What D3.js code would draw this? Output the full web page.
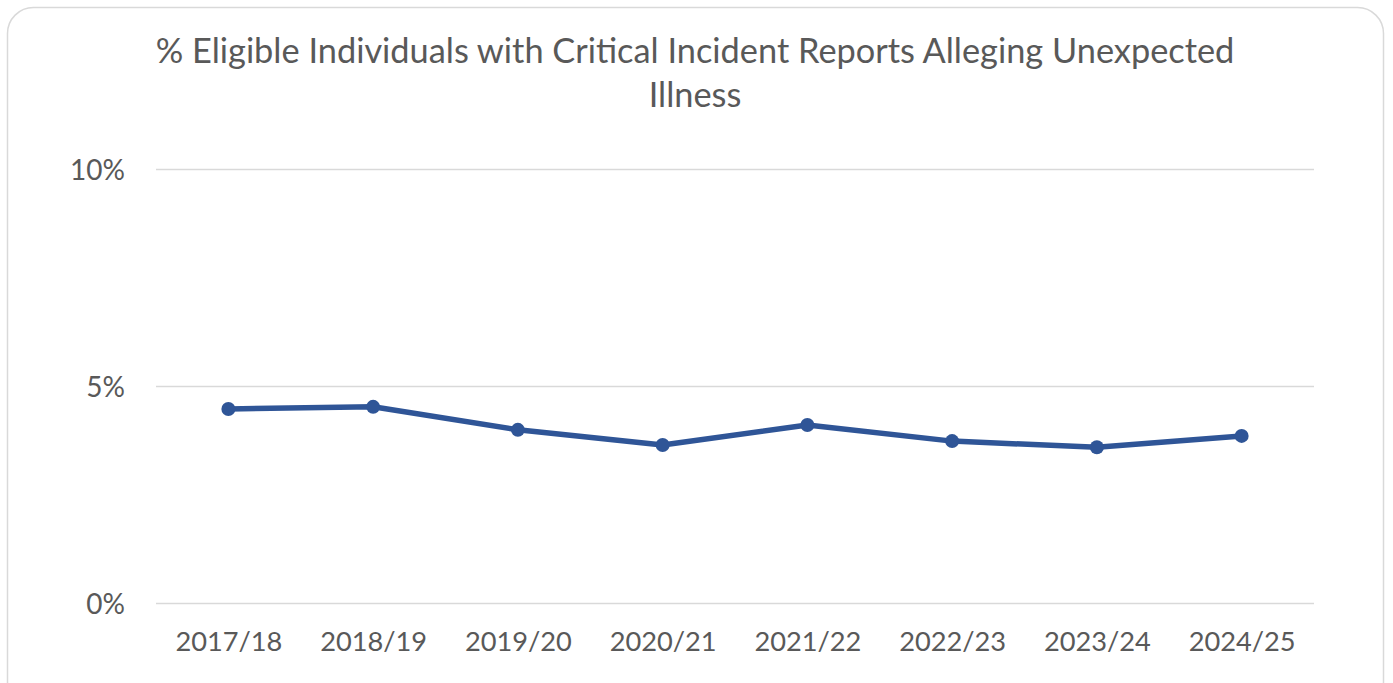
<!DOCTYPE html>
<html>
<head>
<meta charset="utf-8">
<script src="https://cdn.jsdelivr.net/npm/d3@7"></script>
<style>
  body { margin: 0; background: #fff; }
  text { font-family: Lato, "Open Sans", sans-serif; fill: #595959; }
</style>
</head>
<body>
<script>
// Chart data
var years = ["2017/18", "2018/19", "2019/20", "2020/21", "2021/22", "2022/23", "2023/24", "2024/25"];
var pct = [0.0447, 0.0452, 0.0399, 0.0364, 0.0410, 0.0373, 0.0359, 0.0385];
var yTicks = [0, 0.05, 0.10];
var titleLines = ["% Eligible Individuals with Critical Incident Reports Alleging Unexpected", "Illness"];

var width = 1393, height = 683;

var svg = d3.select("body").append("svg")
    .attr("width", width)
    .attr("height", height);

// chart frame with rounded corners (runs past the bottom edge)
svg.append("rect")
    .attr("x", 7.5).attr("y", 7.5)
    .attr("width", 1376).attr("height", 700)
    .attr("rx", 26)
    .attr("fill", "#fff")
    .attr("stroke", "#d9d9d9")
    .attr("stroke-width", 1.5);

// scales
var x = d3.scalePoint().domain(years).range([156, 1314]).padding(0.5);
var y = d3.scaleLinear().domain([0, 0.1]).range([603, 169]);

// shrink/grow a text to a given width
function fitWidth(sel, w) {
    sel.each(function() {
        var fs = parseFloat(d3.select(this).attr("font-size"));
        var len = this.getComputedTextLength();
        d3.select(this).attr("font-size", fs * w / len);
    });
}

// title, both lines share the fitted size
var title = svg.append("g");
var t1 = title.append("text")
    .attr("x", 695).attr("y", 63)
    .attr("text-anchor", "middle")
    .attr("font-size", 30)
    .text(titleLines[0])
    .call(fitWidth, 1079);
title.append("text")
    .attr("x", 695).attr("y", 107)
    .attr("text-anchor", "middle")
    .attr("font-size", t1.attr("font-size"))
    .text(titleLines[1]);

// gridlines + y labels
svg.append("g")
    .attr("transform", "translate(156,0)")
    .call(d3.axisLeft(y).tickValues(yTicks)
        .tickSize(-(1314 - 156))
        .tickPadding(31)
        .tickFormat(d3.format(".0%")))
    .call(function(g) {
        g.select(".domain").remove();
        g.selectAll(".tick line").attr("stroke", "#d9d9d9").attr("stroke-width", 1.5);
        g.selectAll(".tick text")
            .attr("font-family", "Lato, 'Open Sans', sans-serif")
            .attr("font-size", 28)
            .attr("fill", "#595959")
            .attr("dy", "0.36em");
    });

// x labels
svg.append("g")
    .attr("transform", "translate(0,603)")
    .call(d3.axisBottom(x).tickSize(0).tickPadding(40))
    .call(function(g) {
        g.select(".domain").remove();
        g.selectAll(".tick text")
            .attr("font-family", "Lato, 'Open Sans', sans-serif")
            .attr("font-size", 26)
            .attr("fill", "#595959")
            .attr("dy", "0.3em")
            .call(fitWidth, 107);
    });

// line
var line = d3.line()
    .x(function(d, i) { return x(years[i]); })
    .y(function(d) { return y(d); });

svg.append("path")
    .datum(pct)
    .attr("fill", "none")
    .attr("stroke", "#2f5597")
    .attr("stroke-width", 5.5)
    .attr("stroke-linejoin", "round")
    .attr("d", line);

svg.selectAll(".dot")
    .data(pct)
    .enter().append("circle")
    .attr("class", "dot")
    .attr("cx", function(d, i) { return x(years[i]); })
    .attr("cy", function(d) { return y(d); })
    .attr("r", 7)
    .attr("fill", "#2f5597");
</script>
</body>
</html>
